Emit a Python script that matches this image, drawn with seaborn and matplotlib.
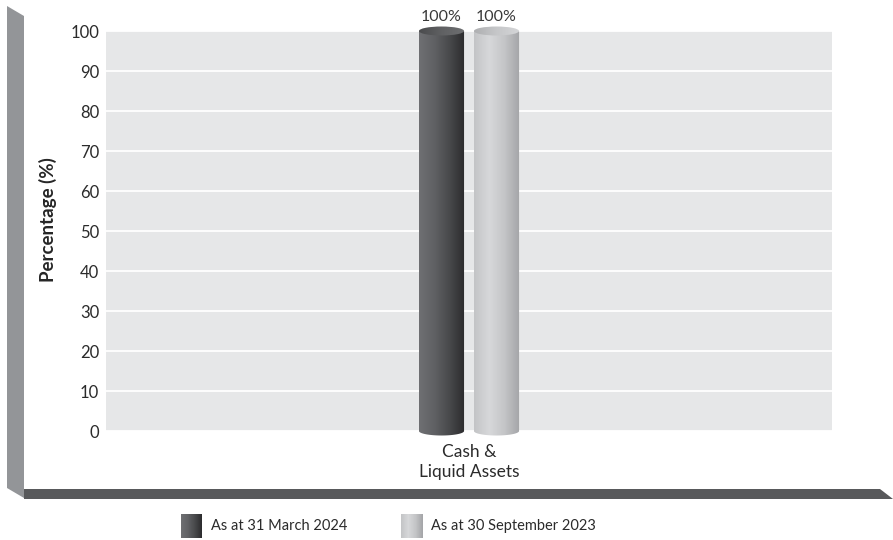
import numpy as np
import pandas as pd
import seaborn as sns
import matplotlib.pyplot as plt
from matplotlib.patches import Ellipse, Polygon
from matplotlib.colors import LinearSegmentedColormap

categories = ["Cash &\nLiquid Assets"]
periods = ["As at 31 March 2024", "As at 30 September 2023"]
values_mar_2024 = [100]
values_sep_2023 = [100]
y_ticks = [0, 10, 20, 30, 40, 50, 60, 70, 80, 90, 100]

df = pd.DataFrame({
    "category": categories * 2,
    "period": [periods[0]] * len(categories) + [periods[1]] * len(categories),
    "value": values_mar_2024 + values_sep_2023,
})

W, H = 893, 540
body_cmaps = [
    LinearSegmentedColormap.from_list("dark", ["#6f7073", "#606164", "#48494b", "#2b2b2d"]),
    LinearSegmentedColormap.from_list("light", ["#c3c4c6", "#d7d8da", "#c4c5c7", "#a3a4a7"]),
]
cap_cmaps = [
    LinearSegmentedColormap.from_list("dark_cap", ["#4a4b4d", "#606163", "#6e6f71"]),
    LinearSegmentedColormap.from_list("light_cap", ["#aeafb1", "#c6c7c9", "#d5d6d8"]),
]
grad = np.linspace(0, 1, 256).reshape(1, -1)

sns.set_style("white")
plt.rcParams["font.family"] = ["Lato", "DejaVu Sans"]
plt.rcParams["text.color"] = "#2b2b2b"


def px(x, y):
    return (x / W, 1 - y / H)


fig = plt.figure(figsize=(W / 100, H / 100), dpi=100)

# 3D frame: left wall and floor
fig.add_artist(Polygon([px(7, 6), px(24, 16), px(24, 498), px(7, 488)],
                       closed=True, transform=fig.transFigure,
                       facecolor="#939598", edgecolor="none"))
fig.add_artist(Polygon([px(24, 489), px(880, 489), px(893, 499), px(24, 499)],
                       closed=True, transform=fig.transFigure,
                       facecolor="#58595b", edgecolor="none"))

# axes a bit taller than the 0-100 band so the cylinder ends can show
unit = 4.0  # pixels per percentage point
m = 3.0     # extra room in data units
ax = fig.add_axes([106 / W, 1 - (431 + m * unit) / H, 726 / W, (400 + 2 * m * unit) / H])
ax.patch.set_alpha(0)
sns.barplot(data=df, x="category", y="value", hue="period",
            palette=["#58595b", "#bcbec0"], width=0.1515, gap=0.18,
            legend=False, ax=ax, zorder=2)

ax.axhspan(0, 100, facecolor="#e6e7e8", edgecolor="none", zorder=0)
ax.yaxis.grid(True, color="white", linewidth=1.3)
ax.set_axisbelow(True)
for s in ax.spines.values():
    s.set_visible(False)

# cylinder look on each bar
cap_h = 9 / unit
for i, container in enumerate(ax.containers):
    for p in container:
        x0, w, h = p.get_x(), p.get_width(), p.get_height()
        cx = x0 + w / 2
        t = np.linspace(np.pi, 2 * np.pi, 60)
        outline = [(x0, h)] + [(cx + w / 2 * np.cos(a), cap_h / 2 * np.sin(a)) for a in t] + [(x0 + w, h)]
        body = Polygon(outline, closed=True, facecolor="none", edgecolor="none")
        ax.add_patch(body)
        im = ax.imshow(grad, extent=[x0, x0 + w, -cap_h, h], aspect="auto",
                       cmap=body_cmaps[i], zorder=3)
        im.set_clip_path(body)
        cap = Ellipse((cx, h), w, cap_h, facecolor="none", edgecolor="none")
        ax.add_patch(cap)
        im2 = ax.imshow(grad, extent=[x0, x0 + w, h - cap_h, h + cap_h], aspect="auto",
                        cmap=cap_cmaps[i], zorder=4)
        im2.set_clip_path(cap)
    ax.bar_label(container, fmt="%.0f%%", padding=5, fontsize=11.5, color="#3a3a3a")
    for p in container:
        p.set_visible(False)

ax.set_xlim(-0.5, 0.5)
ax.set_ylim(-m, 100 + m)
ax.set_yticks(y_ticks)
ax.tick_params(axis="both", length=0, labelsize=12, colors="#2b2b2b")
ax.tick_params(axis="y", pad=5)
ax.tick_params(axis="x", pad=1)
for lbl in ax.get_xticklabels():
    lbl.set_linespacing(1.3)
    lbl.set_fontsize(12.5)
ax.set_xlabel("")
ax.set_ylabel("Percentage (%)", fontsize=13.5, fontweight="bold")
ax.yaxis.set_label_coords(-0.068, 0.526)

# legend with gradient swatches
swatch_x = [181, 401]
for i, label in enumerate(periods):
    sx = swatch_x[i]
    lax = fig.add_axes([sx / W, 1 - 538 / H, 21 / W, 24 / H])
    lax.imshow(grad, aspect="auto", cmap=body_cmaps[i])
    lax.axis("off")
    fig.text((sx + 30) / W, 1 - 526 / H, label, fontsize=10.5,
             va="center", ha="left", color="#2b2b2b")

fig.savefig("out.png", dpi=100)
